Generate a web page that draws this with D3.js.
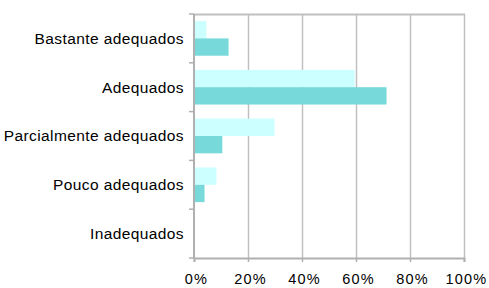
<!DOCTYPE html>
<html>
<head>
<meta charset="utf-8">
<script src="https://cdn.jsdelivr.net/npm/d3@7"></script>
<style>
body { margin: 0; background: #fff; }
text { font-family: "Liberation Sans", Arial, sans-serif; font-size: 15.5px; fill: #000; }
</style>
</head>
<body>
<div id="chart"></div>
<script>
var categories = ["Bastante adequados", "Adequados", "Parcialmente adequados", "Pouco adequados", "Inadequados"];
var seriesLight = [4.6, 59.5, 29.8, 8.3, 0];
var seriesDark = [12.8, 71.3, 10.5, 3.9, 0];
var xTicks = [0, 20, 40, 60, 80, 100];

var width = 489, height = 288,
    pLeft = 194, pRight = 464, pTop = 14, pBottom = 258;

var svg = d3.select("#chart").append("svg")
    .attr("width", width)
    .attr("height", height);

var x = d3.scaleLinear().domain([0, 100]).range([pLeft, pRight]);
var y = d3.scaleBand().domain(categories).range([pTop, pBottom]).paddingInner(0.29).paddingOuter(0.145);

// gridlines
svg.append("g").selectAll("line")
    .data(xTicks.slice(1))
    .enter().append("line")
    .attr("x1", function(d) { return x(d) + 0.5; })
    .attr("x2", function(d) { return x(d) + 0.5; })
    .attr("y1", pTop)
    .attr("y2", pBottom)
    .style("stroke", "#c0c0c0")
    .style("stroke-width", 1.5);

// top border
svg.append("line")
    .attr("x1", pLeft).attr("x2", pRight + 1)
    .attr("y1", pTop + 0.5).attr("y2", pTop + 0.5)
    .style("stroke", "#c0c0c0")
    .style("stroke-width", 2);

var bh = y.bandwidth() / 2;

svg.append("g").selectAll("rect")
    .data(seriesLight)
    .enter().append("rect")
    .attr("x", x(0))
    .attr("y", function(d, i) { return y(categories[i]); })
    .attr("width", function(d) { return x(d) - x(0); })
    .attr("height", bh)
    .style("fill", "#ccffff");

svg.append("g").selectAll("rect")
    .data(seriesDark)
    .enter().append("rect")
    .attr("x", x(0))
    .attr("y", function(d, i) { return y(categories[i]) + bh; })
    .attr("width", function(d) { return x(d) - x(0); })
    .attr("height", bh)
    .style("fill", "#77d9d9");

// x axis
var xAxis = svg.append("g")
    .attr("transform", "translate(0," + pBottom + ")")
    .call(d3.axisBottom(x).tickValues(xTicks).tickSize(4).tickPadding(12)
        .tickFormat(function(d) { return d + "%"; }));
xAxis.select(".domain").style("stroke", "#b0b0b0").style("stroke-width", 2);
xAxis.selectAll(".tick line").style("stroke", "#b0b0b0").style("stroke-width", 1.5);
xAxis.selectAll("text")
    .attr("dx", 2)
    .style("font-family", "'Liberation Sans', Arial, sans-serif")
    .style("font-size", "14.5px")
    .style("letter-spacing", "1.2px");

// y axis: ticks at category boundaries
var step = (pBottom - pTop) / categories.length;
var bounds = d3.range(categories.length + 1).map(function(i) { return pTop + i * step; });

svg.append("line")
    .attr("x1", pLeft).attr("x2", pLeft)
    .attr("y1", pTop).attr("y2", pBottom + 1)
    .style("stroke", "#b0b0b0")
    .style("stroke-width", 2);

svg.append("g").selectAll("line")
    .data(bounds)
    .enter().append("line")
    .attr("x1", pLeft - 5)
    .attr("x2", pLeft)
    .attr("y1", function(d) { return d; })
    .attr("y2", function(d) { return d; })
    .style("stroke", "#b0b0b0")
    .style("stroke-width", 1.5);

svg.append("g").selectAll("text")
    .data(categories)
    .enter().append("text")
    .attr("x", pLeft - 10)
    .attr("y", function(d, i) { return pTop + (i + 0.5) * step; })
    .attr("dy", "0.35em")
    .attr("text-anchor", "end")
    .style("letter-spacing", "0.4px")
    .text(function(d) { return d; });
</script>
</body>
</html>
